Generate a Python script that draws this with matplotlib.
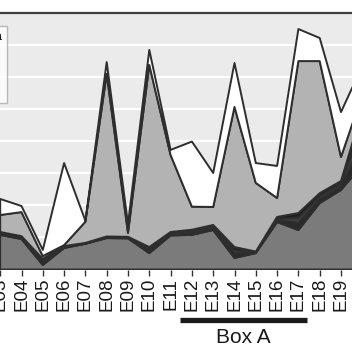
import numpy as np
import matplotlib
matplotlib.use("Agg")
import matplotlib.pyplot as plt
from matplotlib.patches import Patch

plt.rcParams['font.family'] = ['Liberation Sans', 'DejaVu Sans']

categories = ["E03", "E04", "E05", "E06", "E07", "E08", "E09", "E10", "E11",
              "E12", "E13", "E14", "E15", "E16", "E17", "E18", "E19", "E20"]

# stacked layers (bottom to top)
base_layer = [10.8, 9.5, 1.4, 6.7, 8.0, 9.8, 9.7, 5.1, 10.6,
              10.8, 12.3, 3.6, 5.1, 14.8, 12.3, 20.7, 24.8, 32.6]
dark_a = [0.4, 0.4, 0.8, 0.2, 0.1, 0.2, 0.2, 0.8, 0.4,
          0.6, 0.6, 1.4, 0.2, 0.6, 2.2, 1.2, 1.1, 7.0]
dark_b = [0.3, 0.3, 0.6, 0.2, 0.1, 0.2, 0.2, 0.6, 0.4,
          0.5, 0.5, 1.1, 0.2, 0.5, 1.7, 1.0, 0.9, 5.6]
dark_c = [0.2, 0.2, 0.5, 0.2, 0.1, 0.1, 0.1, 0.5, 0.3,
          0.5, 0.5, 0.9, 0.1, 0.5, 1.4, 0.9, 0.8, 4.6]
light_layer = [5.3, 7.5, 0.9, 0.3, 6.6, 50.7, 1.2, 56.8, 24.0,
               7.2, 5.6, 43.7, 21.4, 5.9, 47.4, 41.2, 7.5, 4.7]
white_layer = [5.0, 1.9, 1.9, 25.6, 0.3, 3.7, 2.8, 4.7, 1.6,
               20.3, 10.6, 13.7, 6.2, 10.0, 10.0, 7.2, 14.0, 9.0]

legend_labels = ["Other taxa", "Group B", "Group A", "Core taxa"]
box_label = "Box A"
box_start, box_end = 8.44, 14.40

W, H = 352, 352
fig = plt.figure(figsize=(W / 100, H / 100), dpi=100)

# axes extends beyond figure edges (cropped view)
left_px, right_px = -60, 412
bottom_px_from_top, top_px_from_top = 269.5, 13
ax = fig.add_axes([left_px / W, (H - bottom_px_from_top) / H,
                   (right_px - left_px) / W,
                   (bottom_px_from_top - top_px_from_top) / H])
ax.set_facecolor('#ebebeb')

x = np.arange(len(categories))
colors = ['#7b7b7b', '#2a2a2a', '#3d3d3d', '#1c1c1c', '#b3b3b3', '#ffffff']
ax.stackplot(x, base_layer, dark_a, dark_b, dark_c, light_layer, white_layer,
             colors=colors, edgecolor='#2e2e2e', linewidth=1.4)

step = 21.3
ax.set_xlim((left_px - 0.2) / step, (right_px - 0.2) / step)
ax.set_ylim(0, 80)
ax.set_yticks(np.arange(0, 81, 10))
ax.yaxis.grid(True, color='white', linewidth=1.6)
ax.set_axisbelow(True)
ax.tick_params(axis='y', left=False, labelleft=False)

ax.set_xticks(x)
ax.set_xticklabels(categories, rotation=90, fontsize=13.5, color='#1a1a1a')
ax.tick_params(axis='x', length=4, width=1, color='#333333', pad=2)

for s in ['left', 'right', 'bottom']:
    ax.spines[s].set_visible(False)
ax.spines['top'].set_color('#404040')
ax.spines['top'].set_linewidth(1.6)

# Box A annotation
trans = ax.get_xaxis_transform()
ax.plot([box_start, box_end], [-0.197, -0.197], color='#1a1a1a', lw=3.8,
        solid_capstyle='butt', transform=trans, clip_on=False)
ax.text((box_start + box_end) / 2, -0.267, box_label, transform=trans,
        ha='center', va='center', fontsize=15, color='#1a1a1a')

# legend (mostly cropped off on the left)
handles = [Patch(facecolor=c, edgecolor='#333333') for c in
           ['#ffffff', '#b3b3b3', '#2a2a2a', '#7b7b7b']]
leg = fig.legend(handles, legend_labels, loc='upper right',
                 bbox_to_anchor=(7 / W, 1 - 26 / H), borderaxespad=0,
                 fontsize=9, frameon=True, fancybox=False)
leg.get_frame().set_edgecolor('#aaaaaa')
leg.get_frame().set_linewidth(1.0)

fig.savefig('out.png', dpi=100)
